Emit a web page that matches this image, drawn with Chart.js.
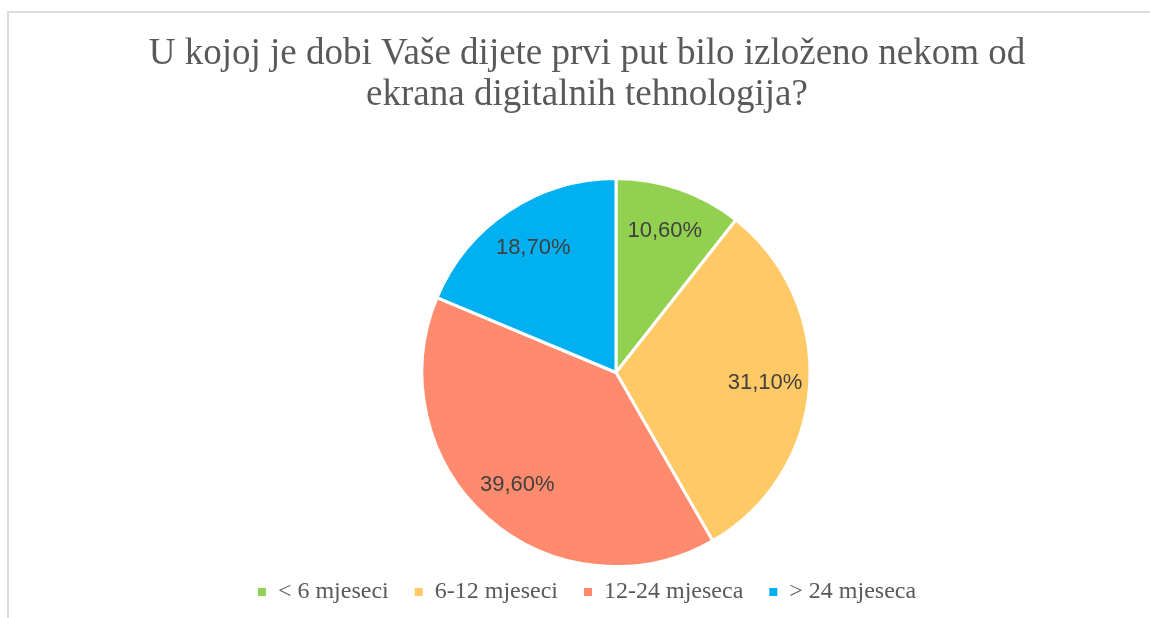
<!DOCTYPE html>
<html>
<head>
<meta charset="utf-8">
<script src="https://cdn.jsdelivr.net/npm/chart.js@4/dist/chart.umd.min.js"></script>
<style>
    html, body { margin: 0; padding: 0; background: #fff; overflow: hidden; }
    #frame {
        position: absolute; left: 7px; top: 11px; width: 1200px; height: 700px;
        border-top: 2px solid #dcdcdc; border-left: 2px solid #dcdcdc;
    }
    #wrap { position: absolute; left: 0; top: 0; width: 1150px; height: 614px; }
</style>
</head>
<body>
<div id="frame"></div>
<div id="wrap"><canvas id="pieChart" width="1150" height="614"></canvas></div>
<script>
const titleLines = ['U kojoj je dobi Vaše dijete prvi put bilo izloženo nekom od', 'ekrana digitalnih tehnologija?'];
const categories = ['< 6 mjeseci', '6-12 mjeseci', '12-24 mjeseca', '> 24 mjeseca'];
const percentages = [10.6, 31.1, 39.6, 18.7];
const sliceColors = ['#92D050', '#FFCA66', '#FF8A6D', '#00B0F0'];

// labels inside the slices, like excel does it
const sliceLabels = {
    id: 'sliceLabels',
    afterDatasetsDraw(chart) {
        const ctx = chart.ctx;
        const meta = chart.getDatasetMeta(0);
        ctx.save();
        ctx.font = '22px "Liberation Sans", Arial, sans-serif';
        ctx.fillStyle = '#404040';
        ctx.textAlign = 'center';
        ctx.textBaseline = 'middle';
        meta.data.forEach((arc, i) => {
            const mid = (arc.startAngle + arc.endAngle) / 2;
            const r = arc.outerRadius * 0.77;
            const txt = percentages[i].toFixed(2).replace('.', ',') + '%';
            ctx.fillText(txt, arc.x + Math.cos(mid) * r, arc.y + Math.sin(mid) * r);
        });
        ctx.restore();
    }
};

// pie sits a bit right of the title centre
const shiftPie = {
    id: 'shiftPie',
    afterLayout(chart) {
        chart.chartArea.left += 58;
        chart.chartArea.width = chart.chartArea.right - chart.chartArea.left;
    }
};

const ctx = document.getElementById('pieChart').getContext('2d');
new Chart(ctx, {
    type: 'pie',
    data: {
        labels: categories,
        datasets: [{
            data: percentages,
            backgroundColor: sliceColors,
            borderColor: '#ffffff',
            borderWidth: 3,
            radius: 194
        }]
    },
    options: {
        responsive: false,
        animation: false,
        layout: { padding: { left: 24, right: 0, top: 0, bottom: 0 } },
        plugins: {
            title: {
                display: true,
                text: titleLines,
                color: '#595959',
                font: { family: '"Liberation Serif", "Times New Roman", serif', size: 37, weight: 'normal', lineHeight: 1.108 },
                padding: { top: 34, bottom: 75 }
            },
            legend: {
                position: 'bottom',
                labels: {
                    color: '#595959',
                    font: { family: '"Liberation Serif", "Times New Roman", serif', size: 24 },
                    boxWidth: 8,
                    boxHeight: 8,
                    padding: 26,
                    generateLabels(chart) {
                        const items = Chart.overrides.pie.plugins.legend.labels.generateLabels(chart);
                        return items.map(it => Object.assign(it, { lineWidth: 0 }));
                    }
                }
            },
            tooltip: { enabled: false }
        }
    },
    plugins: [sliceLabels, shiftPie]
});
</script>
</body>
</html>
